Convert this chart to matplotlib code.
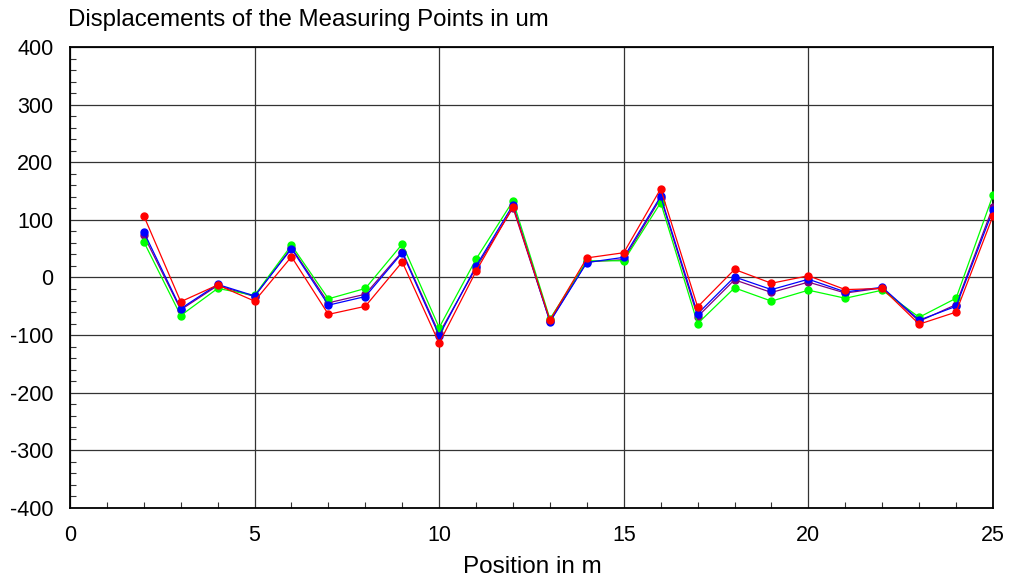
import matplotlib.pyplot as plt
import numpy as np

plt.rcParams['font.family'] = ['Liberation Sans', 'DejaVu Sans']
plt.rcParams['axes.unicode_minus'] = False

# posiciones de los puntos de medida (m)
pos = [2, 3, 4, 5, 6, 7, 8, 9, 10, 11, 12, 13, 14, 15, 16, 17, 18, 19, 20, 21, 22, 23, 24, 25]

# desplazamientos en um
rojo = [107, -42, -13, -41, 36, -64, -50, 27, -114, 11, 123, -74, 34, 43, 154, -51, 14, -10, 3, -21, -19, -81, -60, 107]
azul = [79, -54, -12, -32, 50, -48, -33, 43, -101, 20, 126, -77, 26, 35, 141, -63, 1, -21, -3, -25, -17, -74, -50, 117]
morado = [73, -56, -14, -33, 52, -44, -29, 45, -97, 17, 121, -76, 27, 31, 138, -68, -4, -26, -8, -27, -18, -76, -47, 123]
verde = [62, -66, -19, -31, 56, -37, -19, 58, -87, 32, 133, -72, 29, 29, 130, -80, -18, -41, -22, -36, -22, -69, -36, 143]

fig = plt.figure(figsize=(10.11, 5.78), dpi=100)
ax = fig.add_axes([0.0692, 0.1211, 0.9130, 0.7976])

for serie, color in [(morado, '#800080'), (verde, '#00ff00'), (azul, '#0000ff'), (rojo, '#ff0000')]:
    ax.plot(pos, serie, color=color, lw=0.9, marker='o', ms=5, zorder=3)

ax.set_xlim(0, 25)
ax.set_ylim(-400, 400)
ax.set_xticks(np.arange(0, 26, 5))
ax.set_xticks(np.arange(0, 26, 1), minor=True)
ax.set_yticks(np.arange(-400, 401, 100))
ax.set_yticks(np.arange(-400, 401, 20), minor=True)
ax.grid(True, which='major', color='#333333', lw=0.9)
ax.tick_params(which='major', length=0, pad=12, labelsize=15.5)
ax.tick_params(which='minor', direction='in', length=4, width=0.8, color='#333333')
for s in ax.spines.values():
    s.set_linewidth(1.3)

# etiqueta del eje x y título como texto de la figura
fig.text(0.5265, 0.009, 'Position in m', fontsize=17.5, ha='center', va='baseline')
fig.text(0.067, 0.955, 'Displacements of the Measuring Points in um', fontsize=17.3, ha='left', va='baseline')

plt.savefig('out.png', dpi=100)
